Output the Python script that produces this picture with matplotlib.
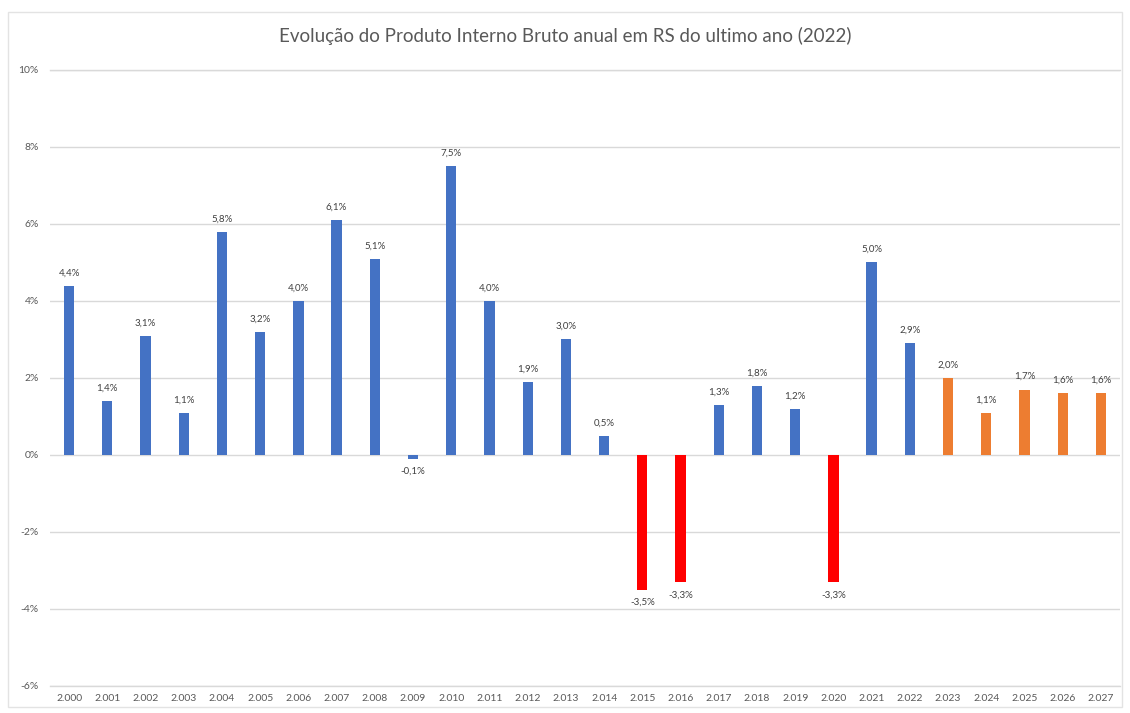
import matplotlib.pyplot as plt
from matplotlib.patches import Rectangle

# ── Dados ────────────────────────────────────────────────────────────────
anos = list(range(2000, 2028))
pib = [4.4, 1.4, 3.1, 1.1, 5.8, 3.2, 4.0, 6.1, 5.1, -0.1,
       7.5, 4.0, 1.9, 3.0, 0.5, -3.5, -3.3, 1.3, 1.8, 1.2,
       -3.3, 5.0, 2.9, 2.0, 1.1, 1.7, 1.6, 1.6]
ano_corte = 2022  # a partir daqui: projeção

COLORS = {
    "positivo": "#4472C4",
    "negativo": "#FF0000",
    "projecao": "#ED7D31",
    "grid": "#D9D9D9",
    "texto": "#595959",
}

plt.rcParams["font.family"] = ["Lato", "DejaVu Sans"]

fig = plt.figure(figsize=(11.3, 7.13), dpi=100)
ax = fig.add_axes([0.0442, 0.0379, 0.947, 0.864])

# borda externa do gráfico (estilo Excel)
fig.patches.append(Rectangle((0.007, 0.008), 0.986, 0.975, transform=fig.transFigure,
                             fill=False, edgecolor="#E3E3E3", linewidth=1.0))

cores = []
for ano, v in zip(anos, pib):
    if ano > ano_corte:
        cores.append(COLORS["projecao"])
    elif v < -1:
        cores.append(COLORS["negativo"])
    else:
        cores.append(COLORS["positivo"])

x = list(range(len(anos)))
ax.bar(x, pib, width=0.27, color=cores, zorder=3)

for xi, v in zip(x, pib):
    label = f"{v:.1f}%".replace(".", ",")
    if v >= 0:
        ax.annotate(label, (xi, v), xytext=(0, 6), textcoords="offset points",
                    ha="center", va="bottom", fontsize=7, color="#404040")
    else:
        ax.annotate(label, (xi, v), xytext=(0, -6), textcoords="offset points",
                    ha="center", va="top", fontsize=7, color="#404040")

ax.set_xlim(-0.5, len(anos) - 0.5)
ax.set_ylim(-6, 10)
yt = list(range(-6, 11, 2))
ax.set_yticks(yt)
ax.set_yticklabels([f"{t}%" for t in yt])
ax.set_xticks(x)
ax.set_xticklabels([f"{a:,}".replace(",", ".") for a in anos])
ax.tick_params(axis="both", length=0, labelsize=7.5, colors=COLORS["texto"])
ax.tick_params(axis="y", pad=8)
ax.tick_params(axis="x", pad=6)

ax.grid(axis="y", color=COLORS["grid"], linewidth=1.0, zorder=0)
for yv in (-6, 10):
    ax.axhline(yv, color=COLORS["grid"], linewidth=1.0, zorder=0, clip_on=False)
for s in ax.spines.values():
    s.set_visible(False)

fig.text(0.5, 0.95, "Evolução do Produto Interno Bruto anual em RS do ultimo ano (2022)",
         ha="center", va="center", fontsize=13.5, color=COLORS["texto"])

fig.savefig("out.png", dpi=100)
